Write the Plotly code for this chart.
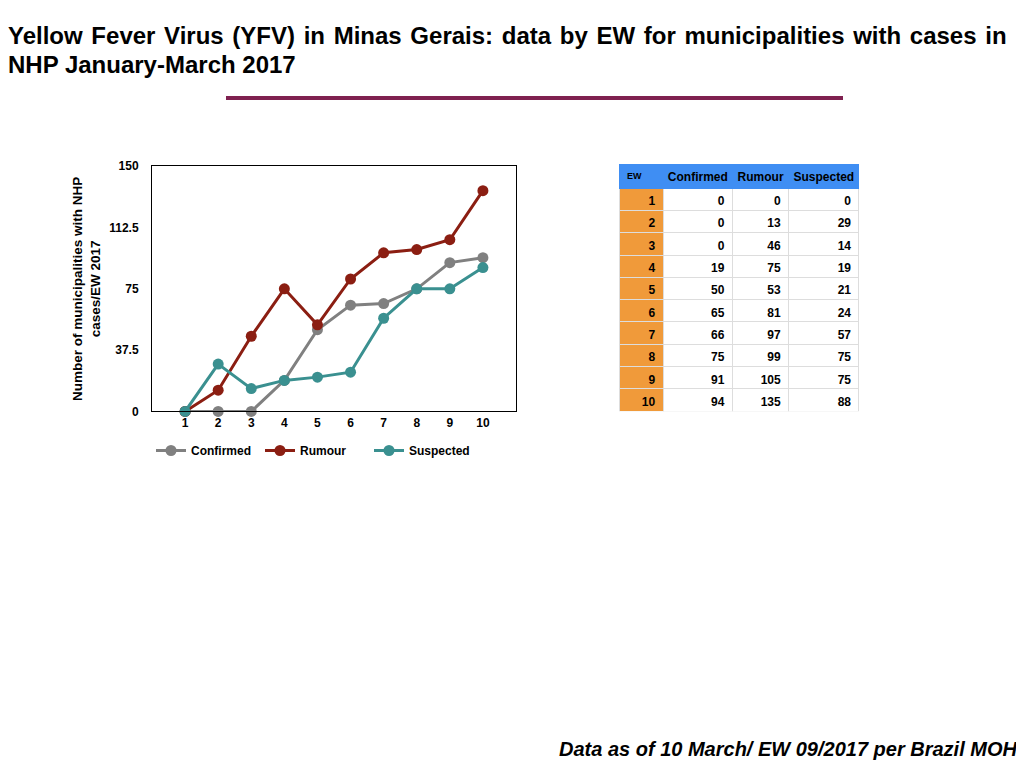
"""
Yellow Fever Virus (YFV) in Minas Gerais - NHP municipalities by EW, Jan-Mar 2017.
Line chart on the left, data table on the right.
"""

import plotly.graph_objects as go

# epidemiological weeks
ew = [1, 2, 3, 4, 5, 6, 7, 8, 9, 10]

# number of municipalities with NHP cases per EW
confirmed = [0, 0, 0, 19, 50, 65, 66, 75, 91, 94]
rumour = [0, 13, 46, 75, 53, 81, 97, 99, 105, 135]
suspected = [0, 29, 14, 19, 21, 24, 57, 75, 75, 88]

y_ticks = [0, 37.5, 75, 112.5, 150]
table_header = ["EW", "Confirmed", "Rumour", "Suspected"]

# page body has an 8px margin, so keep the figure inside the 1024x768 window
OX, OY = 8, 8
W, H = 1024 - 2 * OX, 768 - 2 * OY
FONT = "Liberation Sans, Arial, sans-serif"


def px_x(v):
    return (v - OX) / W


def px_y(v):
    return 1 - (v - OY) / H


fig = go.Figure()

series = [
    ("Confirmed", confirmed, "#808080"),
    ("Rumour", rumour, "#8B1E12"),
    ("Suspected", suspected, "#3A9090"),
]
for name, vals, color in series:
    fig.add_trace(go.Scatter(
        x=ew,
        y=vals,
        name=name,
        mode="lines+markers",
        line=dict(color=color, width=3),
        marker=dict(color=color, size=11),
        cliponaxis=False,
    ))

# data table
fig.add_trace(go.Table(
    domain=dict(x=[px_x(619), px_x(859)], y=[px_y(412), px_y(160)]),
    columnwidth=[44, 69, 56, 70],
    header=dict(
        values=table_header,
        fill_color="#3F8EF3",
        line_color="#3F8EF3",
        align=["left", "center", "center", "center"],
        font=dict(family=FONT, size=[9, 12, 12, 12], color="black", weight="bold"),
        height=24,
    ),
    cells=dict(
        values=[ew, confirmed, rumour, suspected],
        fill_color=[["#F09A3A"] * len(ew)] + [["white"] * len(ew)] * 3,
        line_color="#DDDDDD",
        align="right",
        font=dict(family=FONT, size=12, color="black", weight="bold"),
        height=22.3,
    ),
))

fig.update_layout(
    width=W,
    height=H,
    margin=dict(l=0, r=0, t=0, b=0),
    paper_bgcolor="white",
    plot_bgcolor="white",
    font=dict(family=FONT, color="black"),
    xaxis=dict(
        domain=[px_x(152), px_x(516)],
        range=[0, 11],
        tickvals=ew,
        showgrid=False,
        zeroline=False,
        showline=True,
        linecolor="black",
        linewidth=1,
        mirror=True,
        ticks="",
        tickfont=dict(size=12, weight="bold"),
    ),
    yaxis=dict(
        domain=[px_y(412), px_y(162)],
        range=[0, 150],
        tickvals=y_ticks,
        ticktext=["0", "37.5", "75", "112.5", "150"],
        showgrid=False,
        zeroline=False,
        showline=True,
        linecolor="black",
        linewidth=1,
        mirror=True,
        ticks="",
        ticklabelstandoff=10,
        tickfont=dict(size=12, weight="bold"),
        title=dict(
            text="Number of municipalities with NHP<br>cases/EW 2017",
            font=dict(size=13.5, weight="bold"),
            standoff=5,
        ),
    ),
    showlegend=True,
    legend=dict(
        orientation="h",
        x=px_x(151),
        y=px_y(437),
        xanchor="left",
        yanchor="top",
        font=dict(size=12, weight="bold"),
        itemwidth=30,
        tracegroupgap=0,
        entrywidth=64,
    ),
)

# title lines (hair spaces widen the gaps like the justified original)
title_1 = "Yellow Fever Virus (YFV) in Minas Gerais: data by EW for municipalities with cases in"
fig.add_annotation(
    x=px_x(6), y=px_y(29), xref="paper", yref="paper",
    xanchor="left", yanchor="middle", showarrow=False,
    text=title_1.replace(" ", " \u200a"),
    font=dict(size=24, weight="bold", color="black"),
)
fig.add_annotation(
    x=px_x(6), y=px_y(58), xref="paper", yref="paper",
    xanchor="left", yanchor="middle", showarrow=False,
    text="NHP January-March 2017",
    font=dict(size=24, weight="bold", color="black"),
)

# divider under title
fig.add_shape(
    type="line", xref="paper", yref="paper",
    x0=px_x(226), x1=px_x(843), y0=px_y(92.5), y1=px_y(92.5),
    line=dict(color="#7F2150", width=4),
)

# footer
fig.add_annotation(
    x=px_x(1020), y=px_y(756), xref="paper", yref="paper",
    xanchor="right", yanchor="middle", showarrow=False,
    text="<i>Data as of 10 March/ EW 09/2017 per Brazil MOH</i>",
    font=dict(size=20, weight="bold", color="black"),
)

fig.write_html("out.html")
